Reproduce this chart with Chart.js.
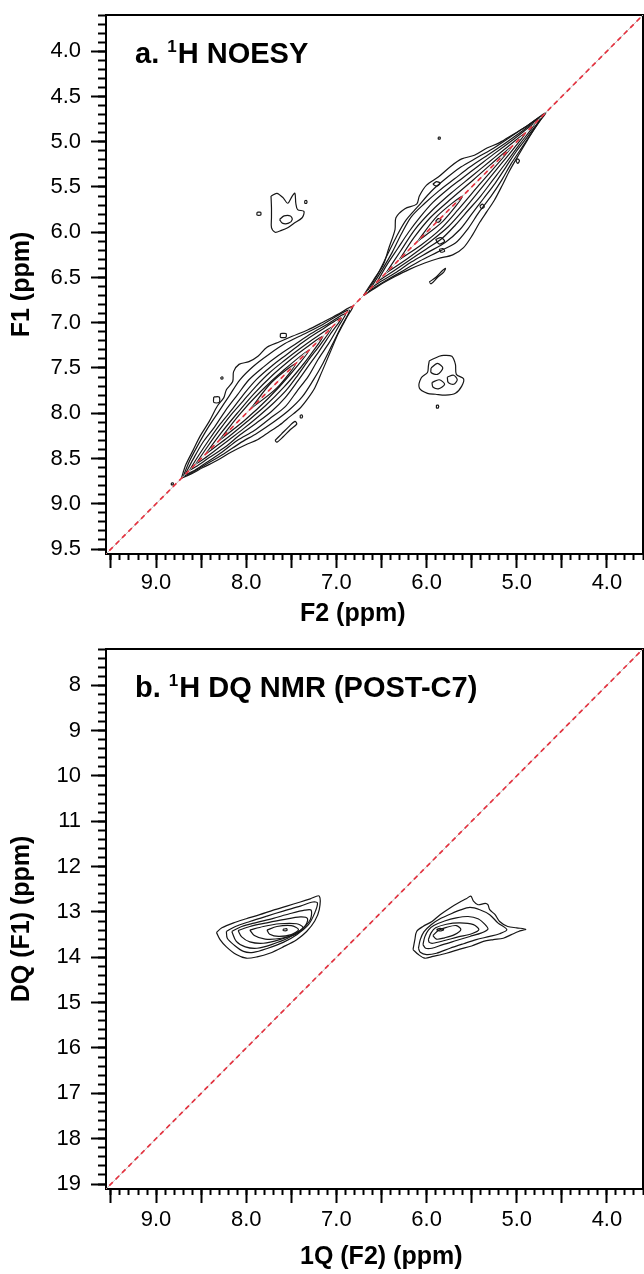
<!DOCTYPE html>
<html>
<head>
<meta charset="utf-8">
<title>1H NOESY and 1H DQ NMR</title>
<script src="https://cdn.jsdelivr.net/npm/chart.js@4.4.1/dist/chart.umd.min.js"></script>
<style>
  html, body { margin: 0; padding: 0; background: #fff; }
  #wrap { position: relative; width: 644px; height: 1274px; }
  canvas { position: absolute; left: 0; }
  #noesy { top: 0; }
  #dq { top: 632px; }
</style>
</head>
<body>
<div id="wrap">
  <canvas id="noesy" width="644" height="632"></canvas>
  <canvas id="dq" width="644" height="642"></canvas>
</div>
<script>
// ---------- axis ranges (ppm) ----------
const f2Range = [3.6, 9.555];          // 1Q / F2, both panels (drawn reversed)
const noesyF1Range = [3.6, 9.555];     // panel a, F1
const dqF1Range = [7.2, 19.11];        // panel b, DQ (F1)

// ---------- diagonals [F2, F1] ----------
const noesyDiagonal = [[9.8, 9.8], [3.4, 3.4]];
const dqDiagonal = [[9.8, 19.6], [3.4, 6.8]];

// ---------- panel a: diagonal peak near 7.6 ppm (outer -> inner levels) ----------
const noesyDiagA_L1 = [[8.72,8.72],[8.67,8.57],[8.59,8.41],[8.51,8.25],[8.41,8.09],[8.32,7.92],[8.25,7.83],[8.22,7.74],[8.15,7.65],[8.14,7.54],[8.08,7.46],[7.97,7.43],[7.87,7.37],[7.77,7.27],[7.63,7.21],[7.49,7.15],[7.32,7.08],[7.16,7.00],[6.99,6.91],[6.82,6.82],[6.89,6.95],[6.98,7.12],[7.07,7.33],[7.16,7.54],[7.24,7.72],[7.32,7.84],[7.41,7.95],[7.52,8.04],[7.63,8.13],[7.75,8.21],[7.87,8.29],[8.01,8.35],[8.17,8.43],[8.32,8.52],[8.48,8.60],[8.61,8.67]];
const noesyDiagA_L2 = [[8.70,8.70],[8.63,8.53],[8.54,8.36],[8.43,8.17],[8.31,7.99],[8.19,7.81],[8.07,7.63],[7.92,7.48],[7.75,7.35],[7.57,7.23],[7.37,7.13],[7.17,7.03],[6.86,6.86],[6.95,7.05],[7.05,7.25],[7.15,7.45],[7.26,7.64],[7.38,7.82],[7.53,7.97],[7.70,8.10],[7.88,8.22],[8.07,8.33],[8.25,8.45],[8.44,8.56],[8.59,8.65]];
const noesyDiagA_L3 = [[8.68,8.68],[8.59,8.51],[8.48,8.32],[8.35,8.15],[8.23,7.97],[8.10,7.80],[7.97,7.63],[7.81,7.49],[7.64,7.36],[7.46,7.24],[7.28,7.12],[7.09,7.01],[6.90,6.90],[6.97,7.03],[7.08,7.22],[7.20,7.40],[7.31,7.59],[7.44,7.76],[7.57,7.93],[7.74,8.06],[7.91,8.19],[8.10,8.30],[8.27,8.43],[8.45,8.55],[8.57,8.63]];
const noesyDiagA_L4 = [[8.63,8.63],[8.53,8.47],[8.41,8.29],[8.285,8.115],[8.15,7.95],[8.02,7.78],[7.88,7.62],[7.72,7.48],[7.55,7.35],[7.38,7.22],[7.20,7.10],[6.95,6.95],[7.07,7.13],[7.19,7.31],[7.315,7.485],[7.44,7.66],[7.57,7.83],[7.72,7.98],[7.89,8.11],[8.065,8.235],[8.23,8.37],[8.41,8.49],[8.54,8.58]];
const noesyDiagA_L5 = [[8.56,8.56],[8.43,8.37],[8.305,8.195],[8.175,8.025],[8.035,7.865],[7.895,7.705],[7.745,7.555],[7.58,7.42],[7.41,7.29],[7.235,7.165],[7.05,7.05],[7.17,7.23],[7.30,7.40],[7.425,7.575],[7.555,7.745],[7.705,7.895],[7.865,8.035],[8.03,8.17],[8.20,8.30],[8.37,8.43],[8.485,8.515]];
const noesyDiagA_L6 = [[8.45,8.45],[8.28,8.22],[8.10,8.00],[7.915,7.785],[7.715,7.585],[7.50,7.40],[7.33,7.27],[7.15,7.15],[7.27,7.33],[7.40,7.50],[7.585,7.715],[7.785,7.915],[8.00,8.10],[8.22,8.28]];
const noesyDiagA_L7 = [[8.30,8.30],[8.08,8.02],[7.84,7.76],[7.58,7.52],[7.30,7.30],[7.52,7.58],[7.76,7.84],[8.02,8.08]];
const noesyDiagA_L8 = [[7.95,7.95],[7.72,7.66],[7.45,7.45],[7.66,7.72]];
const noesyDiagA_islands = [
  [[7.68,8.30],[7.61,8.23],[7.53,8.15],[7.46,8.09],[7.44,8.12],[7.51,8.18],[7.59,8.26],[7.66,8.32]],
  [[8.36,7.82],[8.30,7.82],[8.30,7.88],[8.36,7.88]],
  [[8.28,7.60],[8.26,7.60],[8.26,7.62],[8.28,7.62]],
  [[7.62,7.12],[7.56,7.12],[7.56,7.16],[7.62,7.16]],
  [[8.83,8.77],[8.81,8.77],[8.81,8.79],[8.83,8.79]],
  [[7.40,8.02],[7.38,8.02],[7.38,8.05],[7.40,8.05]]
];

// ---------- panel a: diagonal peak near 5.9 ppm ----------
const noesyDiagB_L1 = [[6.70,6.70],[6.59,6.53],[6.48,6.36],[6.42,6.18],[6.35,5.97],[6.34,5.84],[6.24,5.74],[6.11,5.69],[6.08,5.60],[6.00,5.48],[5.87,5.39],[5.73,5.27],[5.61,5.19],[5.47,5.15],[5.33,5.07],[5.19,5.01],[5.04,4.92],[4.89,4.83],[4.68,4.68],[4.78,4.82],[4.88,4.98],[4.97,5.13],[5.08,5.32],[5.16,5.48],[5.25,5.65],[5.33,5.77],[5.41,5.89],[5.49,6.03],[5.59,6.17],[5.71,6.25],[5.87,6.29],[6.02,6.34],[6.19,6.41],[6.35,6.49],[6.53,6.59]];
const noesyDiagB_L2 = [[6.66,6.66],[6.54,6.46],[6.44,6.26],[6.34,6.06],[6.23,5.87],[6.09,5.71],[5.95,5.55],[5.79,5.41],[5.62,5.28],[5.43,5.17],[5.24,5.06],[5.06,4.94],[4.88,4.82],[4.71,4.71],[4.82,4.88],[4.94,5.06],[5.06,5.24],[5.17,5.43],[5.29,5.61],[5.42,5.78],[5.54,5.96],[5.68,6.12],[5.88,6.22],[6.08,6.32],[6.27,6.43],[6.46,6.54]];
const noesyDiagB_L3 = [[6.62,6.62],[6.49,6.41],[6.38,6.22],[6.28,6.02],[6.17,5.83],[6.02,5.68],[5.86,5.54],[5.69,5.41],[5.52,5.28],[5.34,5.16],[5.16,5.04],[4.95,4.89],[4.74,4.74],[4.87,4.93],[5.00,5.10],[5.12,5.28],[5.24,5.46],[5.37,5.63],[5.50,5.80],[5.63,5.97],[5.79,6.11],[5.98,6.22],[6.17,6.33],[6.35,6.45],[6.50,6.54]];
const noesyDiagB_L4 = [[6.55,6.55],[6.44,6.36],[6.32,6.18],[6.20,6.00],[6.07,5.83],[5.93,5.67],[5.77,5.53],[5.60,5.40],[5.43,5.27],[5.26,5.14],[5.03,4.97],[4.80,4.80],[4.97,5.03],[5.14,5.26],[5.27,5.43],[5.40,5.60],[5.54,5.76],[5.68,5.92],[5.83,6.07],[6.01,6.19],[6.19,6.31],[6.37,6.43]];
const noesyDiagB_L5 = [[6.45,6.45],[6.29,6.21],[6.13,5.97],[5.94,5.76],[5.73,5.57],[5.51,5.39],[5.29,5.21],[5.07,5.03],[4.90,4.90],[5.03,5.07],[5.21,5.29],[5.39,5.51],[5.57,5.73],[5.76,5.94],[5.98,6.12],[6.21,6.29]];
const noesyDiagB_L6 = [[6.30,6.30],[6.14,6.06],[5.96,5.84],[5.75,5.65],[5.48,5.42],[5.05,5.05],[5.42,5.48],[5.65,5.75],[5.84,5.96],[6.06,6.14]];
const noesyDiagB_L7 = [[6.10,6.10],[5.88,5.82],[5.60,5.60],[5.82,5.88]];
const noesyDiagB_L8 = [[5.90,5.88],[5.87,5.85],[5.84,5.86],[5.87,5.89]];
const noesyDiagB_islands = [
  [[5.97,6.55],[5.90,6.50],[5.82,6.42],[5.79,6.40],[5.81,6.44],[5.88,6.50],[5.95,6.57]],
  [[5.93,5.47],[5.89,5.44],[5.85,5.46],[5.89,5.49]],
  [[5.87,4.95],[5.85,4.95],[5.85,4.97],[5.87,4.97]],
  [[5.01,5.21],[4.99,5.19],[4.97,5.21],[4.99,5.24]],
  [[5.41,5.71],[5.38,5.69],[5.36,5.72],[5.39,5.74]],
  [[5.90,6.08],[5.84,6.06],[5.80,6.10],[5.86,6.13]],
  [[5.86,6.19],[5.82,6.18],[5.80,6.21],[5.84,6.22]]
];

// ---------- panel a: cross peaks ----------
const noesyCross1_L1 = [[7.725,5.60],[7.66,5.57],[7.59,5.62],[7.54,5.68],[7.49,5.60],[7.46,5.57],[7.45,5.68],[7.43,5.75],[7.36,5.77],[7.38,5.84],[7.47,5.90],[7.54,5.95],[7.61,5.98],[7.68,6.00],[7.72,5.95],[7.72,5.84],[7.72,5.73]];
const noesyCross1_L2 = [[7.63,5.86],[7.58,5.82],[7.51,5.82],[7.49,5.86],[7.53,5.90],[7.60,5.90]];
const noesyCross1_islands = [
  [[7.88,5.78],[7.84,5.78],[7.84,5.81],[7.88,5.81]],
  [[7.35,5.65],[7.33,5.65],[7.33,5.68],[7.35,5.68]]
];
const noesyCross2_L1 = [[5.97,7.42],[5.86,7.37],[5.81,7.36],[5.72,7.37],[5.68,7.46],[5.67,7.57],[5.59,7.62],[5.61,7.70],[5.68,7.78],[5.79,7.80],[5.90,7.79],[5.99,7.78],[6.08,7.72],[6.06,7.61],[5.99,7.55],[5.98,7.48]];
const noesyCross2_L2 = [
  [[5.95,7.50],[5.88,7.45],[5.82,7.50],[5.88,7.57],[5.95,7.55]],
  [[5.94,7.66],[5.86,7.63],[5.80,7.68],[5.87,7.73],[5.93,7.71]],
  [[5.77,7.60],[5.70,7.58],[5.66,7.63],[5.70,7.68],[5.76,7.66]],
  [[5.89,7.91],[5.87,7.91],[5.87,7.94],[5.89,7.94]]
];

// ---------- panel b: DQ peak at 1Q ~7.6 ppm ----------
const dqPeak1_L1 = [[8.33,13.45],[8.27,13.35],[8.14,13.24],[8.00,13.15],[7.85,13.06],[7.70,12.96],[7.55,12.87],[7.40,12.78],[7.29,12.71],[7.19,12.65],[7.19,12.95],[7.24,13.20],[7.33,13.43],[7.44,13.61],[7.59,13.77],[7.74,13.91],[7.88,13.99],[8.00,14.02],[8.11,13.94],[8.22,13.77],[8.29,13.61]];
const dqPeak1_L2 = [[8.22,13.43],[8.12,13.32],[7.96,13.21],[7.77,13.09],[7.59,12.98],[7.40,12.87],[7.26,12.78],[7.21,12.80],[7.24,13.02],[7.31,13.28],[7.44,13.50],[7.59,13.67],[7.76,13.80],[7.92,13.89],[8.03,13.87],[8.14,13.72],[8.21,13.58]];
const dqPeak1_L3 = [[8.16,13.43],[8.05,13.32],[7.88,13.23],[7.70,13.14],[7.52,13.04],[7.35,12.96],[7.28,12.96],[7.29,13.17],[7.39,13.39],[7.53,13.57],[7.72,13.72],[7.88,13.80],[8.01,13.77],[8.11,13.65]];
const dqPeak1_L4 = [[8.09,13.41],[7.96,13.32],[7.77,13.24],[7.59,13.17],[7.40,13.11],[7.32,13.15],[7.35,13.32],[7.46,13.48],[7.63,13.61],[7.81,13.69],[7.96,13.66],[8.05,13.55]];
const dqPeak1_L5 = [[7.96,13.40],[7.81,13.32],[7.63,13.26],[7.44,13.26],[7.37,13.34],[7.44,13.48],[7.61,13.58],[7.79,13.60],[7.91,13.52]];
const dqPeak1_L6 = [[7.77,13.40],[7.66,13.32],[7.50,13.30],[7.42,13.39],[7.50,13.50],[7.64,13.54],[7.74,13.49]];
const dqPeak1_L7 = [[7.59,13.38],[7.55,13.37],[7.55,13.41],[7.59,13.41]];

// ---------- panel b: DQ peak at 1Q ~5.85 ppm ----------
const dqPeak2_L1 = [[6.15,13.83],[6.13,13.61],[6.11,13.43],[6.04,13.32],[5.94,13.21],[5.85,13.06],[5.74,12.91],[5.63,12.78],[5.56,12.71],[5.51,12.65],[5.48,12.76],[5.43,12.84],[5.35,12.81],[5.32,12.84],[5.30,12.95],[5.24,13.06],[5.19,13.21],[5.10,13.32],[5.00,13.35],[4.90,13.38],[4.98,13.43],[5.06,13.50],[5.15,13.58],[5.26,13.61],[5.37,13.65],[5.50,13.75],[5.63,13.82],[5.78,13.91],[5.93,13.98],[6.02,14.02],[6.09,13.94]];
const dqPeak2_L2 = [[6.09,13.80],[6.07,13.61],[6.03,13.44],[5.95,13.28],[5.85,13.15],[5.74,13.05],[5.63,12.96],[5.52,12.90],[5.41,12.95],[5.30,13.06],[5.21,13.24],[5.11,13.39],[5.19,13.48],[5.30,13.54],[5.45,13.61],[5.59,13.70],[5.74,13.80],[5.89,13.91],[6.00,13.94],[6.07,13.89]];
const dqPeak2_L3 = [[6.04,13.72],[6.02,13.55],[5.98,13.40],[5.92,13.30],[5.80,13.20],[5.67,13.13],[5.54,13.10],[5.43,13.15],[5.35,13.28],[5.32,13.38],[5.39,13.46],[5.52,13.54],[5.67,13.63],[5.82,13.72],[5.94,13.80],[6.01,13.80]];
const dqPeak2_L4 = [[5.98,13.61],[5.95,13.46],[5.90,13.35],[5.78,13.27],[5.63,13.24],[5.48,13.28],[5.42,13.39],[5.50,13.48],[5.65,13.55],[5.80,13.63],[5.93,13.69],[5.97,13.67]];
const dqPeak2_L5 = [[5.93,13.52],[5.87,13.41],[5.78,13.34],[5.67,13.30],[5.62,13.39],[5.69,13.50],[5.80,13.57],[5.89,13.60]];
const dqPeak2_L6 = [[5.89,13.39],[5.85,13.36],[5.81,13.39],[5.85,13.42]];

// ---------- drawing ----------
const FONT = '"Liberation Sans", Arial, Helvetica, sans-serif';
Chart.defaults.font.family = FONT;
Chart.defaults.color = '#000';

const toPoints = arr => arr.map(([x, y]) => ({ x, y }));
const closed = arr => { const p = toPoints(arr); p.push({ ...p[0] }); return p; };

function contour(arr) {
  return {
    data: closed(arr), showLine: true, fill: false,
    borderColor: '#161616', borderWidth: 1.2, tension: 0.3,
    pointRadius: 0, pointHoverRadius: 0, pointHitRadius: 0, order: 2
  };
}

function diagonal(arr) {
  const d = toPoints(arr);
  return [
    { data: d, showLine: true, borderColor: '#e3323f', borderWidth: 1.7, borderDash: [5, 4], pointRadius: 0, order: 0 },
    { data: d, showLine: true, borderColor: '#c4c4c4', borderWidth: 1, pointRadius: 0, order: 1 }
  ];
}

const isWhole = v => Math.abs(v - Math.round(v)) < 1e-6;

// fixed axis box sizes; edge-label padding is dropped so the plot frame stays put
const fixBox = (w, h) => s => {
  if (w !== null) s.width = w;
  if (h !== null) s.height = h;
  s.paddingTop = 0; s.paddingBottom = 0; s.paddingLeft = 0; s.paddingRight = 0;
};

function scales(p) {
  const tickFont = { family: FONT, size: 22 };
  const frame = { display: true, color: '#000', width: 2 };
  const blank = () => '';
  return {
    x: {
      type: 'linear', position: 'bottom', reverse: true, min: f2Range[0], max: f2Range[1],
      ticks: { stepSize: 0.5, includeBounds: false, autoSkip: false, maxRotation: 0, minRotation: 0,
               padding: p.xPad, font: tickFont, color: '#000',
               callback: v => isWhole(v) ? v.toFixed(1) : '' },
      grid: { drawOnChartArea: false, tickLength: 14, tickWidth: 2, tickColor: '#000' },
      border: frame,
      afterFit: fixBox(null, p.xAxisHeight)
    },
    xMinor: {
      type: 'linear', position: 'bottom', reverse: true, min: f2Range[0], max: f2Range[1],
      ticks: { stepSize: 0.1, includeBounds: false, autoSkip: false, maxRotation: 0, callback: blank },
      grid: { drawOnChartArea: false, tickLength: 6, tickWidth: 2, tickColor: '#000' },
      border: { display: false },
      afterFit: fixBox(null, 0)
    },
    y: {
      type: 'linear', position: 'left', reverse: true, min: p.yRange[0], max: p.yRange[1],
      ticks: { stepSize: p.yStep, includeBounds: false, autoSkip: false, padding: 10,
               font: tickFont, color: '#000', callback: p.yFormat },
      grid: { drawOnChartArea: false, tickLength: 15, tickWidth: 2, tickColor: '#000' },
      border: frame,
      title: { display: true, text: p.yTitle, color: '#000',
               font: { family: FONT, size: 25, weight: 'bold' }, padding: { top: 7, bottom: 0 } },
      afterFit: fixBox(106, null)
    },
    yMinor: {
      type: 'linear', position: 'left', reverse: true, min: p.yRange[0], max: p.yRange[1],
      ticks: { stepSize: p.yMinorStep, includeBounds: false, autoSkip: false, callback: blank },
      grid: { drawOnChartArea: false, tickLength: 8, tickWidth: 2, tickColor: '#000' },
      border: { display: false },
      afterFit: fixBox(0, null)
    },
    xTop: {
      type: 'linear', position: 'top', reverse: true, min: f2Range[0], max: f2Range[1],
      ticks: { display: false }, grid: { display: false }, border: frame,
      afterFit: fixBox(null, 0)
    },
    yRight: {
      type: 'linear', position: 'right', reverse: true, min: p.yRange[0], max: p.yRange[1],
      ticks: { display: false }, grid: { display: false }, border: frame,
      afterFit: fixBox(0, null)
    }
  };
}

// keeps the short minor-tick axes flush against the plot frame
const minorAlign = {
  id: 'minorAlign',
  afterLayout(chart) {
    const a = chart.chartArea, s = chart.scales;
    s.yMinor.left = a.left; s.yMinor.right = a.left;
    s.xMinor.top = a.bottom; s.xMinor.bottom = a.bottom;
  }
};

// panel heading (with superscript mass number) and the F2 axis caption
const panelText = {
  id: 'panelText',
  afterDraw(chart, args, o) {
    const { ctx, chartArea: a } = chart;
    ctx.save();
    ctx.fillStyle = '#000';
    ctx.textAlign = 'left';
    ctx.textBaseline = 'alphabetic';
    let x = a.left + 29;
    const y = a.top + 48;
    ctx.font = `bold 29px ${FONT}`;
    ctx.fillText(o.label, x, y);
    x += ctx.measureText(o.label).width;
    ctx.font = `bold 17px ${FONT}`;
    ctx.fillText(o.sup, x, y - 11);
    x += ctx.measureText(o.sup).width + 1;
    ctx.font = `bold 29px ${FONT}`;
    ctx.fillText(o.text, x, y);
    ctx.font = `bold 25px ${FONT}`;
    ctx.textBaseline = 'middle';
    ctx.fillText(o.xTitle, a.left + 194, a.bottom + o.xTitleDy);
    ctx.restore();
  }
};

function makeChart(id, datasets, p, text) {
  return new Chart(document.getElementById(id), {
    type: 'scatter',
    data: { datasets },
    options: {
      responsive: false, animation: false, devicePixelRatio: 1, events: [],
      layout: { padding: { top: p.padTop, right: 1, left: 0, bottom: 0 } },
      scales: scales(p),
      plugins: { legend: { display: false }, tooltip: { enabled: false }, panelText: text }
    },
    plugins: [minorAlign, panelText]
  });
}

const noesySets = [
  ...diagonal(noesyDiagonal),
  ...[noesyDiagA_L1, noesyDiagA_L2, noesyDiagA_L3, noesyDiagA_L4, noesyDiagA_L5, noesyDiagA_L6, noesyDiagA_L7, noesyDiagA_L8].map(contour),
  ...noesyDiagA_islands.map(contour),
  ...[noesyDiagB_L1, noesyDiagB_L2, noesyDiagB_L3, noesyDiagB_L4, noesyDiagB_L5, noesyDiagB_L6, noesyDiagB_L7, noesyDiagB_L8].map(contour),
  ...noesyDiagB_islands.map(contour),
  contour(noesyCross1_L1), contour(noesyCross1_L2), ...noesyCross1_islands.map(contour),
  contour(noesyCross2_L1), ...noesyCross2_L2.map(contour)
];

const dqSets = [
  ...diagonal(dqDiagonal),
  ...[dqPeak1_L1, dqPeak1_L2, dqPeak1_L3, dqPeak1_L4, dqPeak1_L5, dqPeak1_L6, dqPeak1_L7].map(contour),
  ...[dqPeak2_L1, dqPeak2_L2, dqPeak2_L3, dqPeak2_L4, dqPeak2_L5, dqPeak2_L6].map(contour)
];

makeChart('noesy', noesySets, {
  padTop: 15, xAxisHeight: 78, xPad: 2,
  yRange: noesyF1Range, yStep: 0.5, yMinorStep: 0.1,
  yFormat: v => v.toFixed(1), yTitle: 'F1 (ppm)'
}, { label: 'a. ', sup: '1', text: 'H NOESY', xTitle: 'F2 (ppm)', xTitleDy: 60 });

makeChart('dq', dqSets, {
  padTop: 17, xAxisHeight: 85, xPad: 4,
  yRange: dqF1Range, yStep: 1, yMinorStep: 0.2,
  yFormat: v => isWhole(v) ? v.toFixed(0) : '', yTitle: 'DQ (F1) (ppm)'
}, { label: 'b. ', sup: '1', text: 'H DQ NMR (POST-C7)', xTitle: '1Q (F2) (ppm)', xTitleDy: 68 });
</script>
</body>
</html>
